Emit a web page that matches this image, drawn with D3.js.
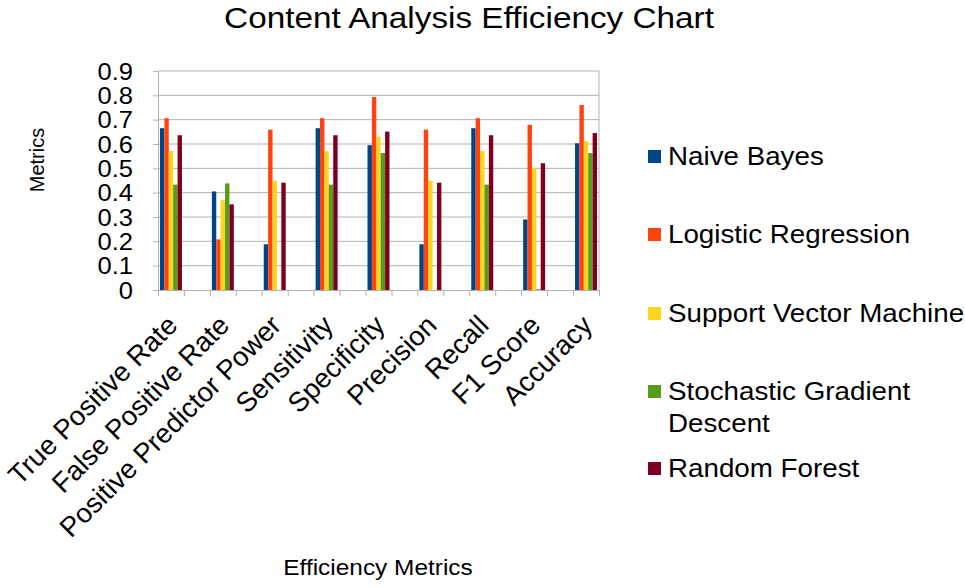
<!DOCTYPE html>
<html>
<head>
<meta charset="utf-8">
<script src="https://cdn.jsdelivr.net/npm/d3@7"></script>
<style>
  body { margin: 0; background: #fff; }
  svg text { font-family: "Liberation Sans", Arial, sans-serif; fill: #000; }
  .axis path, .axis line { stroke: #b3b3b3; }
</style>
</head>
<body>
<svg id="chart"></svg>
<script>
// chart data
const categories = ['True Positive Rate', 'False Positive Rate', 'Positive Predictor Power',
  'Sensitivity', 'Specificity', 'Precision', 'Recall', 'F1 Score', 'Accuracy'];
const seriesNames = ['Naive Bayes', 'Logistic Regression', 'Support Vector Machine',
  'Stochastic Gradient Descent', 'Random Forest'];
const naiveBayes         = [0.665, 0.405, 0.188, 0.665, 0.595, 0.188, 0.665, 0.290, 0.603];
const logisticRegression = [0.706, 0.208, 0.659, 0.706, 0.793, 0.659, 0.706, 0.679, 0.760];
const supportVector      = [0.571, 0.369, 0.449, 0.571, 0.630, 0.449, 0.571, 0.501, 0.612];
const stochasticGradient = [0.433, 0.438, 0.000, 0.433, 0.563, 0.000, 0.433, 0.003, 0.563];
const randomForest       = [0.636, 0.352, 0.441, 0.636, 0.651, 0.441, 0.636, 0.521, 0.645];
const yTicks = [0, 0.1, 0.2, 0.3, 0.4, 0.5, 0.6, 0.7, 0.8, 0.9];
const yTickLabels = ['0', '0.1', '0.2', '0.3', '0.4', '0.5', '0.6', '0.7', '0.8', '0.9'];
const colors = ['#004586', '#ff420e', '#ffd320', '#579d1c', '#7e0021'];

// the source picture is a little wider than tall, so text gets a horizontal stretch
const textStretch = 1.11;

class GroupedBarchart {

  constructor(_config) {
    this.config = {
      parentElement: _config.parentElement,
      containerWidth: 965,
      containerHeight: 587,
      margin: {top: 71, left: 158},
      width: 441,
      height: 219
    }
    this.initVis();
  }

  initVis() {
    let vis = this;
    vis.width = vis.config.width;
    vis.height = vis.config.height;

    vis.svg = d3.select(vis.config.parentElement)
        .attr('width', vis.config.containerWidth)
        .attr('height', vis.config.containerHeight);

    vis.chart = vis.svg.append('g')
        .attr('transform', `translate(${vis.config.margin.left},${vis.config.margin.top})`);

    // 17 slots: every category is followed by an empty slot (the last one is cut off)
    vis.slot = vis.width / 17;
    vis.slotScale = d3.scaleLinear().domain([0, 17]).range([0, vis.width]);

    vis.xScale = d3.scaleBand()
        .domain(categories)
        .range([0, vis.slot * 18]);

    vis.xInner = d3.scaleBand()
        .domain(seriesNames)
        .range([0, vis.slot])
        .paddingInner(0)
        .paddingOuter(0.45);

    vis.yScale = d3.scaleLinear()
        .domain([0, 0.9])
        .range([vis.height, 0]);

    vis.updateVis();
  }

  updateVis() {
    let vis = this;
    const seriesValues = [naiveBayes, logisticRegression, supportVector, stochasticGradient, randomForest];
    vis.data = [];
    categories.forEach((c, i) => {
      seriesNames.forEach((s, j) => {
        vis.data.push({category: c, series: s, value: seriesValues[j][i], color: colors[j]});
      });
    });
    vis.renderVis();
  }

  renderVis() {
    let vis = this;

    // gridlines
    vis.chart.append('g')
        .selectAll('line')
        .data(yTicks.filter(d => d > 0))
      .join('line')
        .attr('x1', 0)
        .attr('x2', vis.width)
        .attr('y1', d => vis.yScale(d))
        .attr('y2', d => vis.yScale(d))
        .attr('stroke', '#b3b3b3')
        .attr('stroke-width', 1);

    // right border of the plot area
    vis.chart.append('line')
        .attr('x1', vis.width).attr('x2', vis.width)
        .attr('y1', 0).attr('y2', vis.height)
        .attr('stroke', '#b3b3b3');

    // bars
    vis.chart.append('g')
        .selectAll('rect')
        .data(vis.data)
      .join('rect')
        .attr('x', d => vis.xScale(d.category) + vis.xInner(d.series))
        .attr('width', vis.xInner.bandwidth())
        .attr('y', d => vis.yScale(d.value))
        .attr('height', d => vis.height - vis.yScale(d.value))
        .attr('fill', d => d.color);

    // x axis: ticks on every slot boundary
    const xAxis = d3.axisBottom(vis.slotScale)
        .tickValues(d3.range(18))
        .tickFormat('')
        .tickSize(6)
        .tickSizeOuter(0);
    vis.chart.append('g')
        .attr('class', 'axis x-axis')
        .attr('transform', `translate(0,${vis.height})`)
        .call(xAxis);

    // category labels, rotated
    vis.chart.append('g')
        .selectAll('text')
        .data(categories)
      .join('text')
        .attr('transform', d => `translate(${vis.xScale(d) + vis.slot / 2 + 8},${vis.height + 37}) rotate(-45)`)
        .attr('text-anchor', 'end')
        .style('font-size', '27.5px')
        .text(d => d);

    // y axis
    const yAxis = d3.axisLeft(vis.yScale)
        .tickValues(yTicks)
        .tickFormat((d, i) => yTickLabels[i])
        .tickSize(5)
        .tickPadding(20)
        .tickSizeOuter(0);
    const yAxisG = vis.chart.append('g')
        .attr('class', 'axis y-axis')
        .call(yAxis);
    yAxisG.selectAll('text')
        .attr('x', 0)
        .attr('dy', '0.36em')
        .attr('transform', `translate(-25,0) scale(${textStretch},1)`)
        .style('font-size', '23px');

    // titles
    vis.svg.append('text')
        .attr('transform', `translate(469,28) scale(${textStretch},1)`)
        .attr('text-anchor', 'middle')
        .style('font-size', '30px')
        .text('Content Analysis Efficiency Chart');

    vis.svg.append('text')
        .attr('transform', 'translate(44,160) rotate(-90)')
        .attr('text-anchor', 'middle')
        .style('font-size', '20px')
        .text('Metrics');

    vis.svg.append('text')
        .attr('transform', `translate(378,575) scale(${textStretch},1)`)
        .attr('text-anchor', 'middle')
        .style('font-size', '22px')
        .text('Efficiency Metrics');

    // legend
    const legendLines = [['Naive Bayes'], ['Logistic Regression'], ['Support Vector Machine'],
      ['Stochastic Gradient', 'Descent'], ['Random Forest']];
    const legendY = [165, 243, 322, 400, 477];
    const legend = vis.svg.append('g')
        .selectAll('g')
        .data(seriesNames)
      .join('g')
        .attr('transform', (d, i) => `translate(648,${legendY[i]})`);
    legend.append('rect')
        .attr('x', 0)
        .attr('y', -15)
        .attr('width', 13)
        .attr('height', 13)
        .attr('fill', (d, i) => colors[i]);
    legend.append('text')
        .attr('transform', `translate(20,0) scale(${textStretch},1)`)
        .style('font-size', '25px')
        .selectAll('tspan')
        .data((d, i) => legendLines[i])
      .join('tspan')
        .attr('x', 0)
        .attr('y', (d, k) => k * 32)
        .text(d => d);
  }
}

new GroupedBarchart({parentElement: '#chart'});
</script>
</body>
</html>
